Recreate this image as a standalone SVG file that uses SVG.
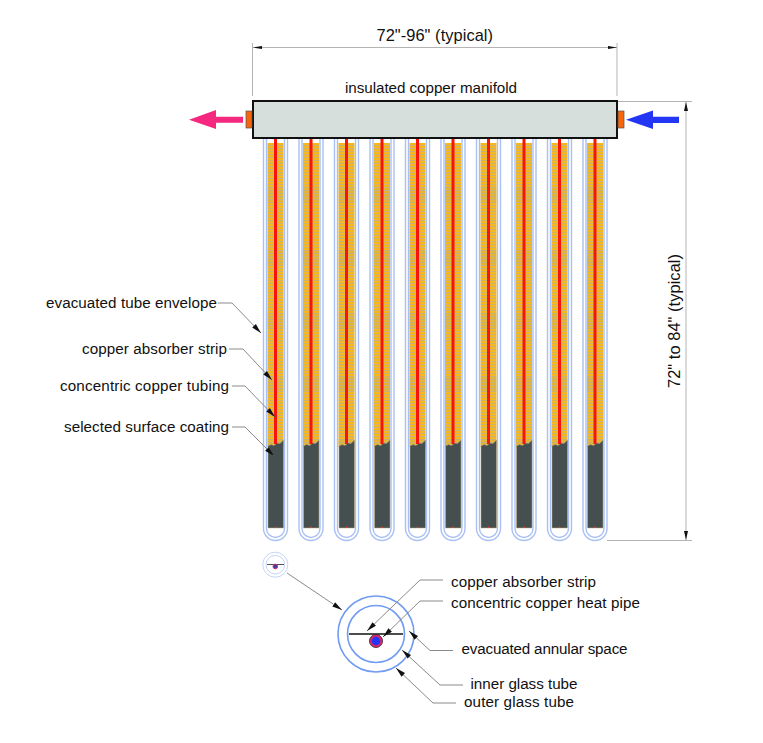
<svg xmlns="http://www.w3.org/2000/svg" width="763" height="743" viewBox="0 0 763 743">
<style>
text{font-family:"Liberation Sans",Arial,sans-serif;font-size:15.2px;fill:#111}
.big{font-size:16.4px}
.lead{fill:none;stroke:#8a8a8a;stroke-width:1;marker-end:url(#ah)}
.dim{fill:none;stroke:#b4b4b4;stroke-width:1}
.glass{fill:none;stroke:#a9c0f5;stroke-width:1.400}
</style>
<defs>
<marker id="ah" markerUnits="userSpaceOnUse" markerWidth="10" markerHeight="6" refX="10" refY="3" orient="auto"><path d="M0 0.500L10 3L0 5.500z" fill="#111"/></marker>
<pattern id="st" patternUnits="userSpaceOnUse" width="16" height="3" y="143"><rect width="16" height="3" fill="#f6b81c"/><rect y="2" width="16" height="1" fill="#c9b27a"/></pattern>
<pattern id="bd" patternUnits="userSpaceOnUse" width="16" height="63" y="143"><rect y="44" width="16" height="16" fill="#a8a890" fill-opacity="0.220"/></pattern>
<g id="tube">
<path class="glass" d="M263.500 139V528.500a12 12 0 0 0 24 0V139"/>
<path class="glass" d="M266.500 139V528.500a9 9 0 0 0 18 0V139"/>
<rect x="267.500" y="143" width="16" height="304" fill="url(#st)"/>
<rect x="267.500" y="143" width="16" height="304" fill="url(#bd)"/>
<path d="M268 446L271 444.500L274 445.500L277 443L280 443.500L283.500 440V528H268z" fill="#454f50" stroke="#b5a878" stroke-width="0.500"/>
<rect x="274" y="139" width="3" height="305" fill="#f8140a"/>
<rect x="274.800" y="526.500" width="1.500" height="1.500" fill="#e0402a"/>
</g>
</defs>
<g id="tubes">
<use href="#tube"/><use href="#tube" x="35.500"/><use href="#tube" x="71"/><use href="#tube" x="106.500"/><use href="#tube" x="142"/><use href="#tube" x="177.500"/><use href="#tube" x="213"/><use href="#tube" x="248.500"/><use href="#tube" x="284"/><use href="#tube" x="319.500"/>
</g>
<g id="manifold"><rect x="253" y="101" width="364" height="37" fill="#d6dfdc" stroke="#111" stroke-width="2"/>
<rect x="246" y="111" width="6" height="17" fill="#f7650f" stroke="#555" stroke-width="0.700"/>
<rect x="618" y="111" width="6" height="17" fill="#f7650f" stroke="#555" stroke-width="0.700"/></g>
<g id="arrow-out"><path d="M189 119.700L216 110V116.700H243V122.700H216V129z" fill="#f5287f"/></g>
<g id="arrow-in"><path d="M626 119.700L653 110.500V116.700H679V123H653V129z" fill="#2436f5"/></g>
<g id="section-small"><circle cx="275.300" cy="564.700" r="12.500" fill="none" stroke="#c6d4f8"/><circle cx="275.300" cy="564.700" r="9.300" fill="none" stroke="#c6d4f8"/><path d="M267 564.500H284" stroke="#555"/><circle cx="275.300" cy="566.500" r="2.300" fill="#4a3aa8" stroke="#c2306a"/></g>
<g id="section-large"><circle cx="376" cy="634" r="38" fill="none" stroke="#6f9bf2" stroke-width="1.600"/><circle cx="376" cy="634" r="28.500" fill="none" stroke="#6f9bf2" stroke-width="1.600"/><path d="M349 634H403" stroke="#111" stroke-width="1.500"/><circle cx="376" cy="641" r="6.500" fill="#e0246e" stroke="#222" stroke-width="0.800"/><circle cx="376" cy="641" r="4.300" fill="#2436f5"/></g>
<g id="connectors">
<path class="dim" d="M252.500 43V96M617 43V96M618 101.500H692M607 540.500H692"/>
<path class="dim" d="M253 47.500H617M686 102V540"/>
<path d="M253 47.500l9-1.500v3zM617 47.500l-9-1.500v3zM686 102l-2 9h4zM686 540l-2-9h4z" fill="#111"/>
<path class="lead" d="M218 303H232L261 333"/>
<path class="lead" d="M229 349H243L272 380"/>
<path class="lead" d="M232 386H245L275 417"/>
<path class="lead" d="M232 427H245L274 456"/>
<path class="lead" d="M287 573L342 610"/>
<path class="lead" d="M443 580H420L367 631"/>
<path class="lead" d="M443 601H420L383 637"/>
<path class="lead" d="M453 650.500H430L409 631"/>
<path class="lead" d="M463 685H440L402 650"/>
<path class="lead" d="M456 703H433L396 668"/>
</g>
<g id="labels">
<text class="big" x="376.500" y="40.500" textLength="116.500">72"-96" (typical)</text>
<text x="345" y="92.700" textLength="172">insulated copper manifold</text>
<text class="big" x="680" y="388" textLength="134" transform="rotate(-90 680 388)">72" to 84" (typical)</text>
<text x="46" y="308" textLength="171">evacuated tube envelope</text>
<text x="82" y="354" textLength="145">copper absorber strip</text>
<text x="60" y="391" textLength="169">concentric copper tubing</text>
<text x="64" y="432" textLength="165">selected surface coating</text>
<text x="451" y="587" textLength="145">copper absorber strip</text>
<text x="451" y="608" textLength="189">concentric copper heat pipe</text>
<text x="461.500" y="654" textLength="166">evacuated annular space</text>
<text x="470.500" y="689" textLength="107">inner glass tube</text>
<text x="464" y="707" textLength="110">outer glass tube</text>
</g>
</svg>
